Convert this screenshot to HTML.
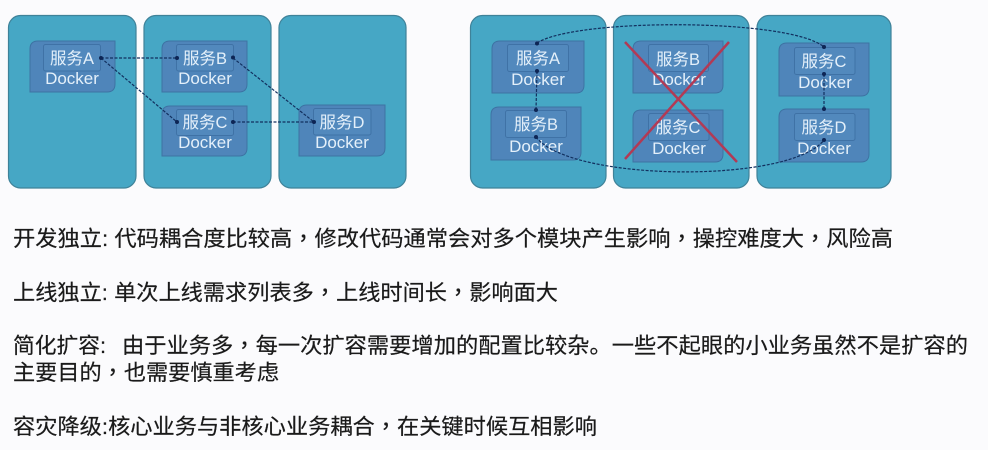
<!DOCTYPE html>
<html><head><meta charset="utf-8"><style>
html,body{margin:0;padding:0;background:#fbfbfd}
svg{display:block}
.p{fill:#46a7c5;stroke:#3f8299;stroke-width:1.2}
.o{fill:#4f85ba;stroke:#3d73a3;stroke-width:1}
.i{fill:#5289bd;stroke:#3f72a6;stroke-width:1}
.s{font:16.500px "Liberation Sans","Noto Sans CJK SC",sans-serif;fill:#e4f0fa;text-anchor:middle}
.k{font:17px "Liberation Sans",sans-serif;fill:#e4f0fa;text-anchor:middle}
.t{font:21.500px "Liberation Sans","Noto Sans CJK SC",sans-serif;fill:#1a1a1a;stroke:#1a1a1a;stroke-width:.2}
.c{font-family:"Noto Sans CJK TC",sans-serif}
.d{fill:none;stroke:#12305f;stroke-width:1.2;stroke-dasharray:3 1.5}
.n{fill:#0d2555}
</style></head><body>
<svg width="988" height="450" viewBox="0 0 988 450" xmlns="http://www.w3.org/2000/svg">
<rect x="8.500" y="15.500" width="127.500" height="172.500" rx="12" class="p"/>
<rect x="144" y="15.500" width="127" height="172.500" rx="12" class="p"/>
<rect x="279" y="15.500" width="127" height="172.500" rx="12" class="p"/>
<rect x="470.500" y="15.500" width="135.500" height="172.500" rx="12" class="p"/>
<rect x="613.500" y="15.500" width="135.500" height="172.500" rx="12" class="p"/>
<rect x="757" y="15.500" width="134" height="172.500" rx="12" class="p"/>

<path class="o" d="M38 41H115V84Q115 92 107 92H30V49Q30 41 38 41Z"/>
<rect class="i" x="43.500" y="44.500" width="57" height="26.500" rx="2"/>
<text class="s" x="72" y="64">服务A</text><text class="k" x="72" y="84">Docker</text>

<path class="o" d="M170 41H247V84Q247 92 239 92H162V49Q162 41 170 41Z"/>
<rect class="i" x="176.500" y="44.500" width="57" height="26.500" rx="2"/>
<text class="s" x="205" y="64">服务B</text><text class="k" x="205" y="84">Docker</text>

<path class="o" d="M170 106H247V148Q247 156 239 156H162V114Q162 106 170 106Z"/>
<rect class="i" x="176.500" y="109.500" width="57" height="26" rx="2"/>
<text class="s" x="205" y="128">服务C</text><text class="k" x="205" y="148">Docker</text>

<path class="o" d="M307 105H385V148Q385 156 377 156H299V113Q299 105 307 105Z"/>
<rect class="i" x="313.500" y="108.500" width="57.500" height="26.500" rx="2"/>
<text class="s" x="342" y="128">服务D</text><text class="k" x="342" y="148">Docker</text>

<path class="d" d="M101 58H177M233 58L314 122M101 58L177 122M233 122H314"/>
<g class="n"><circle cx="101" cy="58" r="2"/><circle cx="177" cy="58" r="2"/><circle cx="233" cy="57.500" r="2"/><circle cx="177" cy="122" r="2"/><circle cx="233" cy="122" r="2"/><circle cx="314" cy="122" r="2"/></g>

<path class="o" d="M500 41H584V85Q584 93 576 93H492V49Q492 41 500 41Z"/>
<rect class="i" x="507.500" y="44.500" width="61" height="27" rx="2"/>
<text class="s" x="538" y="64">服务A</text><text class="k" x="538" y="85">Docker</text>

<path class="o" d="M499 107H581V152Q581 160 573 160H491V115Q491 107 499 107Z"/>
<rect class="i" x="505.500" y="110.500" width="61" height="27" rx="2"/>
<text class="s" x="536" y="130">服务B</text><text class="k" x="536" y="152">Docker</text>

<path class="o" d="M641 41H723V85Q723 93 715 93H633V49Q633 41 641 41Z"/>
<rect class="i" x="648.500" y="44.500" width="60" height="27" rx="2"/>
<text class="s" x="678" y="65">服务B</text><text class="k" x="679" y="85">Docker</text>

<path class="o" d="M641 110H723V154Q723 162 715 162H633V118Q633 110 641 110Z"/>
<rect class="i" x="648.500" y="113.500" width="60.500" height="27" rx="2"/>
<text class="s" x="678" y="133">服务C</text><text class="k" x="679" y="154">Docker</text>

<path class="o" d="M787 43H869V88Q869 96 861 96H779V51Q779 43 787 43Z"/>
<rect class="i" x="794.500" y="47.500" width="60.500" height="27" rx="2"/>
<text class="s" x="824" y="67">服务C</text><text class="k" x="825" y="88">Docker</text>

<path class="o" d="M787 109H869V154Q869 162 861 162H779V117Q779 109 787 109Z"/>
<rect class="i" x="794.500" y="113.500" width="60.500" height="27" rx="2"/>
<text class="s" x="824" y="133">服务D</text><text class="k" x="824" y="154">Docker</text>

<path class="d" d="M537 43C575 18 790 18 824 47M537 71L536 110M536 137C570 182 790 184 824 140M824 74V109"/>
<g class="n"><circle cx="537" cy="43.500" r="2"/><circle cx="537" cy="71" r="2"/><circle cx="536" cy="110" r="2"/><circle cx="536" cy="137" r="2"/><circle cx="824" cy="47" r="2"/><circle cx="824" cy="74" r="2"/><circle cx="824" cy="109" r="2"/><circle cx="824" cy="140" r="2"/></g>

<path d="M625 42L737 162M729 42L625 159" fill="none" stroke="#b23a55" stroke-width="2.500"/>

<text class="t" x="13" y="246" textLength="880" lengthAdjust="spacingAndGlyphs">开发独立: 代码耦合度比较高<tspan class="c">，</tspan>修改代码通常会对多个模块产生影响<tspan class="c">，</tspan>操控难度大<tspan class="c">，</tspan>风险高</text>
<text class="t" x="13" y="300" textLength="545" lengthAdjust="spacingAndGlyphs">上线独立: 单次上线需求列表多<tspan class="c">，</tspan>上线时间长<tspan class="c">，</tspan>影响面大</text>
<text class="t" x="13" y="353" textLength="93" lengthAdjust="spacingAndGlyphs">简化扩容:</text>
<text class="t" x="122" y="353" textLength="846" lengthAdjust="spacingAndGlyphs">由于业务多<tspan class="c">，</tspan>每一次扩容需要增加的配置比较杂。一些不起眼的小业务虽然不是扩容的</text>
<text class="t" x="13" y="380" textLength="266" lengthAdjust="spacingAndGlyphs">主要目的<tspan class="c">，</tspan>也需要慎重考虑</text>
<text class="t" x="13" y="434" textLength="584" lengthAdjust="spacingAndGlyphs">容灾降级:核心业务与非核心业务耦合<tspan class="c">，</tspan>在关键时候互相影响</text>
</svg>
</body></html>
